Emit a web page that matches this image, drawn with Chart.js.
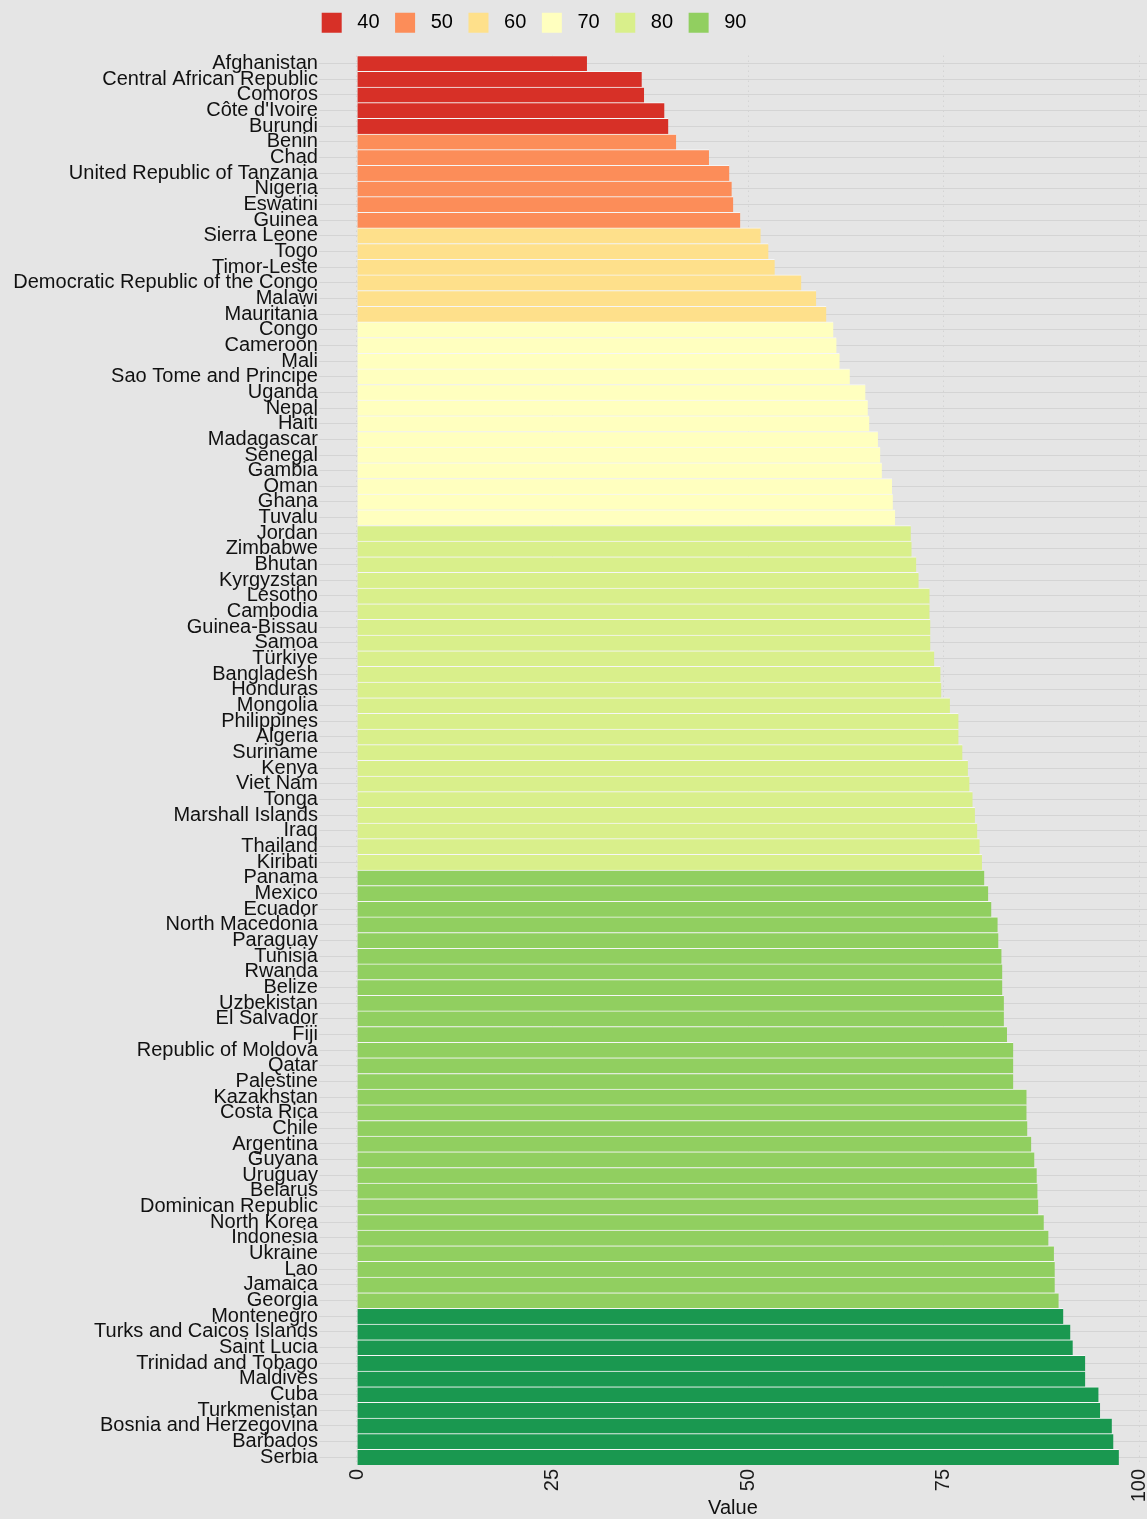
<!DOCTYPE html>
<html>
<head>
<meta charset="utf-8">
<script src="https://cdn.jsdelivr.net/npm/chart.js@4.4.1/dist/chart.umd.min.js"></script>
<style>
  html, body { margin: 0; padding: 0; background: #e5e5e5; overflow: hidden; }
  #wrap { width: 1147px; height: 1519px; position: relative; }
</style>
</head>
<body>
<div id="wrap"><canvas id="mychart"></canvas></div>
<script>
const countries = [
    'Afghanistan', 'Central African Republic', 'Comoros', "Côte d'Ivoire", 'Burundi',
    'Benin', 'Chad', 'United Republic of Tanzania', 'Nigeria', 'Eswatini', 'Guinea',
    'Sierra Leone', 'Togo', 'Timor-Leste', 'Democratic Republic of the Congo', 'Malawi', 'Mauritania',
    'Congo', 'Cameroon', 'Mali', 'Sao Tome and Principe', 'Uganda', 'Nepal', 'Haiti', 'Madagascar',
    'Senegal', 'Gambia', 'Oman', 'Ghana', 'Tuvalu',
    'Jordan', 'Zimbabwe', 'Bhutan', 'Kyrgyzstan', 'Lesotho', 'Cambodia', 'Guinea-Bissau', 'Samoa',
    'Türkiye', 'Bangladesh', 'Honduras', 'Mongolia', 'Philippines', 'Algeria', 'Suriname', 'Kenya',
    'Viet Nam', 'Tonga', 'Marshall Islands', 'Iraq', 'Thailand', 'Kiribati',
    'Panama', 'Mexico', 'Ecuador', 'North Macedonia', 'Paraguay', 'Tunisia', 'Rwanda', 'Belize',
    'Uzbekistan', 'El Salvador', 'Fiji', 'Republic of Moldova', 'Qatar', 'Palestine', 'Kazakhstan',
    'Costa Rica', 'Chile', 'Argentina', 'Guyana', 'Uruguay', 'Belarus', 'Dominican Republic',
    'North Korea', 'Indonesia', 'Ukraine', 'Lao', 'Jamaica', 'Georgia',
    'Montenegro', 'Turks and Caicos Islands', 'Saint Lucia', 'Trinidad and Tobago', 'Maldives',
    'Cuba', 'Turkmenistan', 'Bosnia and Herzegovina', 'Barbados', 'Serbia'
]
const values = [
    29.4, 36.4, 36.7, 39.3, 39.8,
    40.8, 45.0, 47.6, 47.9, 48.1, 49.0,
    51.6, 52.6, 53.4, 56.8, 58.7, 60.0,
    60.9, 61.3, 61.7, 63.0, 65.0, 65.3, 65.5, 66.6,
    66.9, 67.1, 68.4, 68.5, 68.8,
    70.8, 70.9, 71.5, 71.8, 73.2, 73.2, 73.3, 73.3,
    73.8, 74.6, 74.7, 75.8, 76.9, 76.9, 77.4, 78.1,
    78.3, 78.7, 79.0, 79.3, 79.6, 79.9,
    80.2, 80.7, 81.1, 81.9, 82.0, 82.4, 82.5, 82.5,
    82.7, 82.7, 83.1, 83.9, 83.9, 83.9, 85.6,
    85.6, 85.7, 86.2, 86.6, 86.9, 87.0, 87.1,
    87.8, 88.4, 89.1, 89.2, 89.2, 89.7,
    90.3, 91.2, 91.5, 93.1, 93.1,
    94.8, 95.0, 96.5, 96.7, 97.4
]
const binLabels = ['40', '50', '60', '70', '80', '90']
const binLimits = [40, 50, 60, 70, 80, 90]
const binColors = ['#d73027', '#fc8d59', '#fee08b', '#ffffbf', '#d9ef8b', '#91cf60', '#1a9850']
const xTicks = [0, 25, 50, 75, 100]

function binColor(v) {
    for (let i = 0; i < binLimits.length; i++) {
        if (v <= binLimits[i]) return binColors[i]
    }
    return binColors[binColors.length - 1]
}

// push the plot area down a bit below the legend
const legendGap = {
    id: 'legendGap',
    beforeInit(chart) {
        const fit = chart.legend.fit
        chart.legend.fit = function () {
            fit.bind(chart.legend)()
            this.height += 13
        }
    }
}

Chart.defaults.font.family = "'Liberation Sans', Arial, sans-serif"
Chart.defaults.font.size = 20
Chart.defaults.color = '#1a1a1a'

const ctx = document.getElementById('mychart')
var chart = new Chart(ctx, {
    type: 'bar',
    data: {
        labels: countries,
        datasets: [{
            data: values,
            backgroundColor: values.map(binColor),
            borderColor: '#f6f6f6',
            borderWidth: {top: 1, right: 0, bottom: 0, left: 0},
            borderSkipped: false,
            barPercentage: 1,
            categoryPercentage: 1,
        }],
    },
    plugins: [legendGap],
    options: {
        indexAxis: 'y',
        responsive: true,
        maintainAspectRatio: false,
        animation: false,
        layout: {
            autoPadding: false,
            padding: {
                top: 9.9,
                left: 0,
                right: 0,
                bottom: 0,
            },
        },
        scales: {
            x: {
                min: -4.87,
                max: 101,
                afterBuildTicks: (scale) => {
                    scale.ticks = xTicks.map(v => ({value: v}))
                },
                afterFit: (scale) => {
                    scale.height = 54
                    scale.paddingLeft = 0
                    scale.paddingRight = 0
                },
                grid: {
                    color: 'rgba(195,195,195,0.7)',
                    lineWidth: 1,
                    drawTicks: false,
                },
                border: {
                    display: false,
                    dash: [1, 4],
                },
                ticks: {
                    minRotation: 90,
                    maxRotation: 90,
                    padding: 4,
                    color: '#1a1a1a',
                    font: {
                        size: 20,
                    },
                },
                title: {
                    display: true,
                    text: 'Value',
                    color: '#111111',
                    font: {
                        size: 20,
                    },
                    padding: {top: 0, bottom: -1},
                },
            },
            y: {
                afterFit: (scale) => {
                    scale.width = 318.9
                    scale.paddingTop = 0
                    scale.paddingBottom = 0
                },
                grid: {
                    offset: false,
                    color: '#d4d4d4',
                    lineWidth: 1,
                    drawTicks: false,
                },
                border: {
                    display: false,
                },
                ticks: {
                    autoSkip: false,
                    padding: 1,
                    color: '#111111',
                    font: {
                        size: 20,
                    },
                },
            },
        },
        plugins: {
            legend: {
                position: 'top',
                align: 'start',
                fullSize: false,
                onClick: null,
                labels: {
                    boxWidth: 20,
                    boxHeight: 20,
                    padding: 2.8,
                    color: '#111111',
                    font: {
                        size: 20,
                    },
                    generateLabels: () => binLabels.map((t, i) => ({
                        text: ' ' + t + '  \u200A',
                        fillStyle: binColors[i],
                        strokeStyle: binColors[i],
                        lineWidth: 0,
                        hidden: false,
                        index: i,
                    })),
                },
            },
            tooltip: {
                enabled: false,
            },
        },
    }
});
</script>
</body>
</html>
